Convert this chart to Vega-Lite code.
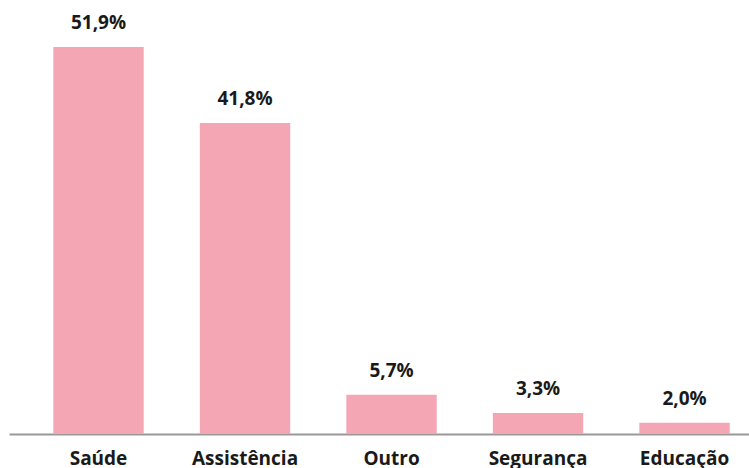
{
  "$schema": "https://vega.github.io/schema/vega-lite/v6.json",
  "autosize": {"type": "none"},
  "padding": {"left": 9, "top": 0, "right": 0, "bottom": 34},
  "width": 740,
  "height": 434,
  "background": "white",
  "config": {"view": {"stroke": null}, "font": "Open Sans"},
  "data": {
    "values": [
      {"categoria": "Saúde", "valor": 51.9, "rotulo": "51,9%"},
      {"categoria": "Assistência", "valor": 41.8, "rotulo": "41,8%"},
      {"categoria": "Outro", "valor": 5.7, "rotulo": "5,7%"},
      {"categoria": "Segurança", "valor": 3.3, "rotulo": "3,3%"},
      {"categoria": "Educação", "valor": 2.0, "rotulo": "2,0%"}
    ]
  },
  "encoding": {
    "x": {
      "field": "categoria",
      "type": "nominal",
      "sort": null,
      "scale": {"paddingInner": 0.383, "paddingOuter": 0.217, "align": 0.697},
      "axis": {
        "title": null,
        "labelAngle": 0,
        "ticks": false,
        "labelPadding": 15,
        "labelFont": "Open Sans",
        "labelFontSize": 19,
        "labelFontWeight": "bold",
        "labelColor": "#1a1a1a",
        "domainColor": "#999999",
        "domainWidth": 2,
        "grid": false
      }
    },
    "y": {
      "field": "valor",
      "type": "quantitative",
      "scale": {"domain": [0.5, 58.14], "zero": false, "nice": false},
      "axis": null
    }
  },
  "layer": [
    {
      "mark": {"type": "bar", "color": "#F5A6B4", "clip": true},
      "encoding": {"y2": {"datum": 0}}
    },
    {
      "mark": {"type": "text", "dy": -18, "baseline": "alphabetic", "font": "Open Sans", "fontSize": 19, "fontWeight": "bold", "color": "#1a1a1a"},
      "encoding": {"text": {"field": "rotulo"}}
    }
  ]
}
